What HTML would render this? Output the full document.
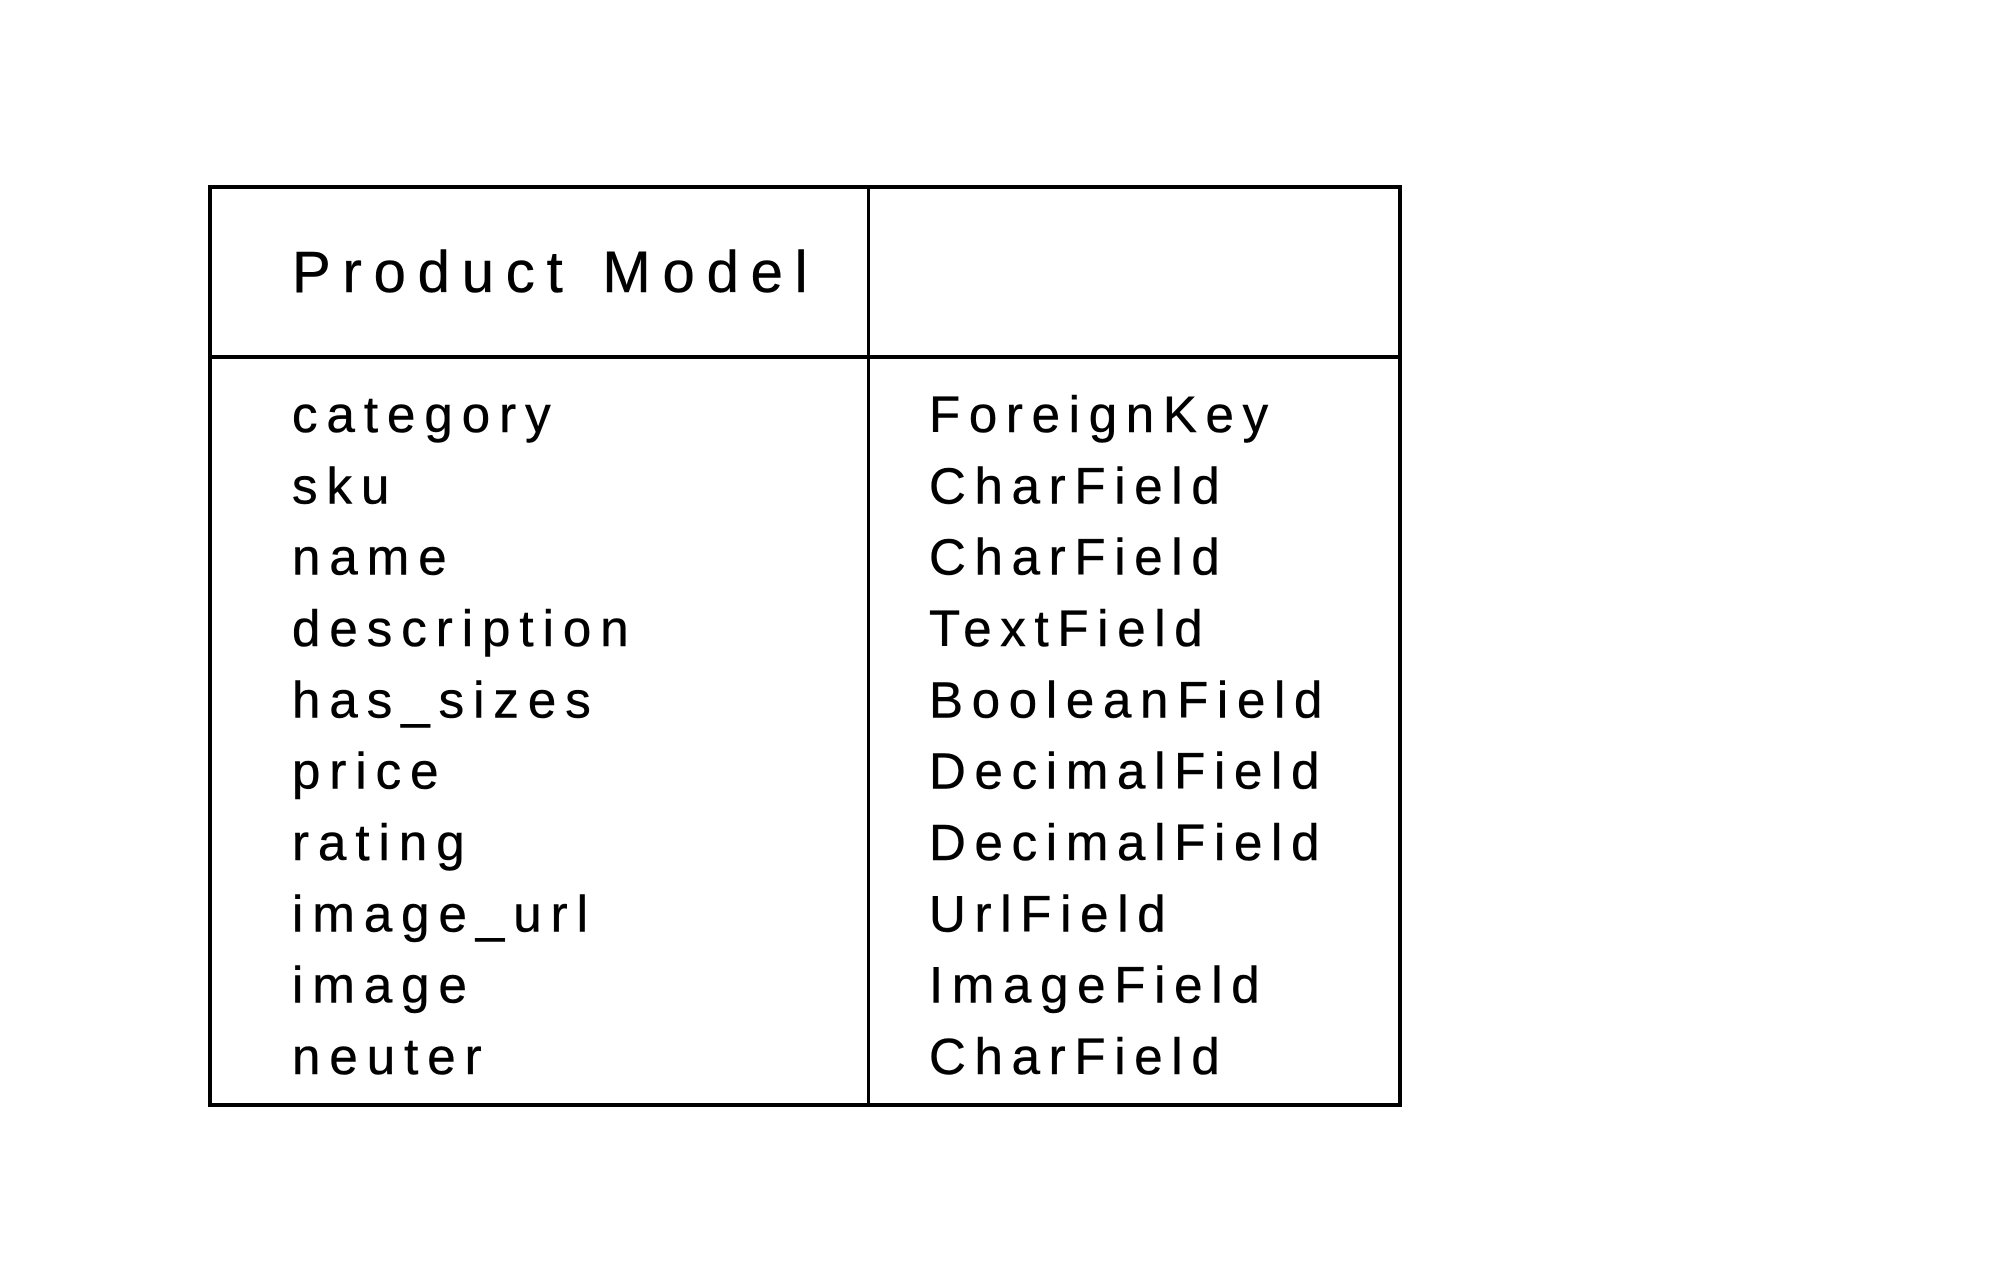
<!DOCTYPE html>
<html><head><meta charset="utf-8"><style>
html,body{margin:0;padding:0;background:#fff;width:2000px;height:1286px;overflow:hidden}
svg text{font-family:"Liberation Sans",sans-serif;fill:#000;stroke:#000;stroke-width:0.5}
</style></head><body>
<svg width="2000" height="1286" viewBox="0 0 2000 1286" xmlns="http://www.w3.org/2000/svg">
<rect x="210" y="187" width="1190" height="918" fill="none" stroke="#000" stroke-width="4"/>
<line x1="210" y1="357" x2="1400" y2="357" stroke="#000" stroke-width="4"/>
<line x1="868.5" y1="187" x2="868.5" y2="1105" stroke="#000" stroke-width="3"/>
<text x="292" y="292" font-size="58" letter-spacing="11.8">Product Model</text>
<g font-size="51" letter-spacing="9">
<text x="292" y="432">category</text>
<text x="292" y="503.3">sku</text>
<text x="292" y="574.7">name</text>
<text x="292" y="646">description</text>
<text x="292" y="717.3">has_sizes</text>
<text x="292" y="788.7">price</text>
<text x="292" y="860">rating</text>
<text x="292" y="931.3">image_url</text>
<text x="292" y="1002.7">image</text>
<text x="292" y="1074">neuter</text>
</g>
<g font-size="51" letter-spacing="8.7">
<text x="929" y="432">ForeignKey</text>
<text x="929" y="503.3">CharField</text>
<text x="929" y="574.7">CharField</text>
<text x="929" y="646">TextField</text>
<text x="929" y="717.3">BooleanField</text>
<text x="929" y="788.7">DecimalField</text>
<text x="929" y="860">DecimalField</text>
<text x="929" y="931.3">UrlField</text>
<text x="929" y="1002.7">ImageField</text>
<text x="929" y="1074">CharField</text>
</g>
</svg>
</body></html>
